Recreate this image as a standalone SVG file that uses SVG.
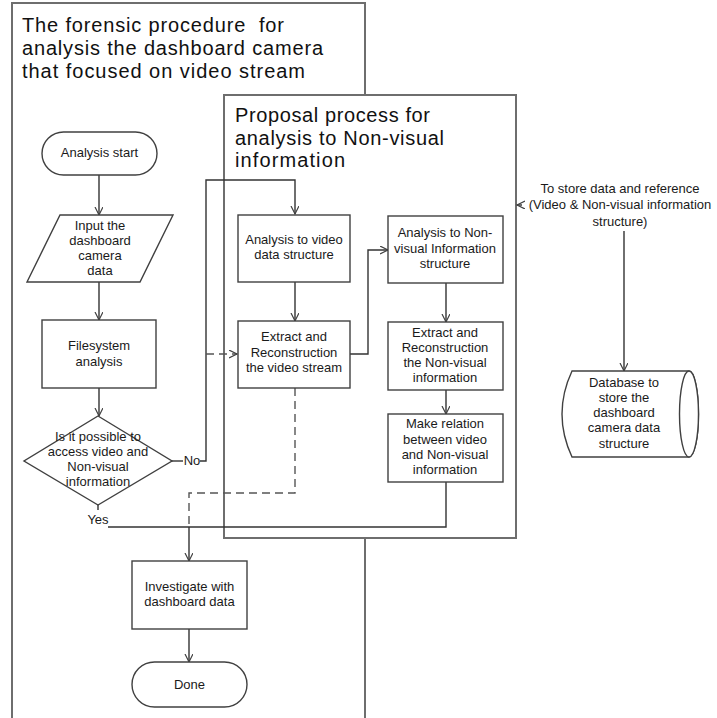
<svg xmlns="http://www.w3.org/2000/svg" width="717" height="718" viewBox="0 0 717 718">
<defs>
<marker id="arr" markerWidth="10" markerHeight="10" refX="8" refY="4" orient="auto" markerUnits="userSpaceOnUse">
<path d="M0,0 L8,4 L0,8" fill="none" stroke="#404040" stroke-width="1.2"/>
</marker>
<style>
.frame{fill:#fff;stroke:#6e6e6e;stroke-width:2}
.node{fill:#fff;stroke:#404040;stroke-width:1.4}
.t{font-family:"Liberation Sans","Noto Sans",sans-serif;font-size:13px;fill:#1a1a1a;text-anchor:middle}
.title{font-family:"Liberation Sans","Noto Sans",sans-serif;font-size:20px;fill:#111;white-space:pre}
.c{fill:none;stroke:#333;stroke-width:1.4}
.d{fill:none;stroke:#555;stroke-width:1.4;stroke-dasharray:8,5}
</style>
</defs>
<rect width="717" height="718" fill="#fff"/>
<g id="outer-frame">
<rect class="frame" x="12" y="3" width="353" height="740"/>
<text class="title" x="22" y="32" textLength="262" lengthAdjust="spacing" xml:space="preserve">The forensic procedure  for</text>
<text class="title" x="22" y="55" textLength="301" lengthAdjust="spacing">analysis the dashboard camera</text>
<text class="title" x="22" y="78" textLength="283" lengthAdjust="spacing">that focused on video stream</text>
</g>
<g id="inner-frame">
<rect class="frame" x="224" y="95" width="292" height="443" stroke-width="1.6"/>
<text class="title" x="235" y="122" textLength="195" lengthAdjust="spacing">Proposal process for</text>
<text class="title" x="235" y="145" textLength="209" lengthAdjust="spacing">analysis to Non-visual</text>
<text class="title" x="235" y="167" textLength="110" lengthAdjust="spacing">information</text>
</g>
<g id="connectors">
<path class="c" d="M99,175 V215" marker-end="url(#arr)"/>
<path class="c" d="M99,282 V320" marker-end="url(#arr)"/>
<path class="c" d="M99,388 V416" marker-end="url(#arr)"/>
<path class="c" d="M172,461 H183"/>
<path class="c" d="M200,461 H206 V180 H295 V214" marker-end="url(#arr)"/>
<path class="d" d="M206,354 H237" marker-end="url(#arr)"/>
<path class="c" d="M295,282 V321" marker-end="url(#arr)"/>
<path class="c" d="M350,354 H368 V250 H388" marker-end="url(#arr)"/>
<path class="c" d="M446,283 V322" marker-end="url(#arr)"/>
<path class="c" d="M446,390 V414" marker-end="url(#arr)"/>
<path class="c" d="M446,482 V527 H108"/>
<path class="c" d="M98,505 V510"/>
<path class="d" d="M295,388 V493 H189 V527"/>
<path class="c" d="M189,527 V561" marker-end="url(#arr)"/>
<path class="c" d="M189,629 V662" marker-end="url(#arr)"/>
<path class="c" d="M624,231 V371" marker-end="url(#arr)"/>
<path class="c" d="M522,205 H517" marker-end="url(#arr)"/>
<text class="t" x="192" y="465">No</text>
<text class="t" x="98" y="524">Yes</text>
</g>
<g id="analysis-start">
<rect class="node" x="42" y="132" width="115" height="43" rx="21.5"/>
<text class="t" x="99.5" y="157">Analysis start</text>
</g>
<g id="input-data">
<polygon class="node" points="60,215 173,215 140,282 27,282"/>
<text class="t" x="100" y="230">Input the</text>
<text class="t" x="100" y="245">dashboard</text>
<text class="t" x="100" y="260">camera</text>
<text class="t" x="100" y="275">data</text>
</g>
<g id="filesystem">
<rect class="node" x="42" y="320" width="114" height="68"/>
<text class="t" x="99" y="350">Filesystem</text>
<text class="t" x="99" y="366">analysis</text>
</g>
<g id="decision">
<polygon class="node" points="98,416 172,461 98,505 24,461"/>
<text class="t" x="98" y="441">Is it possible to</text>
<text class="t" x="98" y="456">access video and</text>
<text class="t" x="98" y="471">Non-visual</text>
<text class="t" x="98" y="486">information</text>
</g>
<g id="video-structure">
<rect class="node" x="238" y="215" width="112" height="67"/>
<text class="t" x="294" y="244">Analysis to video</text>
<text class="t" x="294" y="259">data structure</text>
</g>
<g id="extract-video">
<rect class="node" x="238" y="321" width="112" height="67"/>
<text class="t" x="294" y="341">Extract and</text>
<text class="t" x="294" y="357">Reconstruction</text>
<text class="t" x="294" y="372">the video stream</text>
</g>
<g id="nv-structure">
<rect class="node" x="388" y="216" width="115" height="67"/>
<text class="t" x="445" y="237">Analysis to Non-</text>
<text class="t" x="445" y="253">visual Information</text>
<text class="t" x="445" y="268">structure</text>
</g>
<g id="extract-nv">
<rect class="node" x="388" y="322" width="115" height="68"/>
<text class="t" x="445" y="337">Extract and</text>
<text class="t" x="445" y="352">Reconstruction</text>
<text class="t" x="445" y="367">the Non-visual</text>
<text class="t" x="445" y="382">information</text>
</g>
<g id="make-relation">
<rect class="node" x="388" y="414" width="115" height="68"/>
<text class="t" x="445" y="428">Make relation</text>
<text class="t" x="445" y="444">between video</text>
<text class="t" x="445" y="459">and Non-visual</text>
<text class="t" x="445" y="474">information</text>
</g>
<g id="investigate">
<rect class="node" x="132" y="561" width="115" height="68"/>
<text class="t" x="189.5" y="591">Investigate with</text>
<text class="t" x="189.5" y="606">dashboard data</text>
</g>
<g id="done">
<rect class="node" x="132" y="662" width="115" height="45" rx="22.5"/>
<text class="t" x="189.5" y="689">Done</text>
</g>
<g id="store-note">
<text class="t" x="620" y="193">To store data and reference</text>
<text class="t" x="620" y="209">(Video &amp; Non-visual information</text>
<text class="t" x="620" y="226">structure)</text>
</g>
<g id="database">
<path class="node" d="M572,371 H689 A9.5,43 0 0 1 689,457 H572 Q552,414 572,371 Z"/>
<ellipse class="node" cx="689" cy="414" rx="9.5" ry="43" fill="none"/>
<text class="t" x="624" y="387">Database to</text>
<text class="t" x="624" y="402">store the</text>
<text class="t" x="624" y="417">dashboard</text>
<text class="t" x="624" y="432">camera data</text>
<text class="t" x="624" y="448">structure</text>
</g>
</svg>
